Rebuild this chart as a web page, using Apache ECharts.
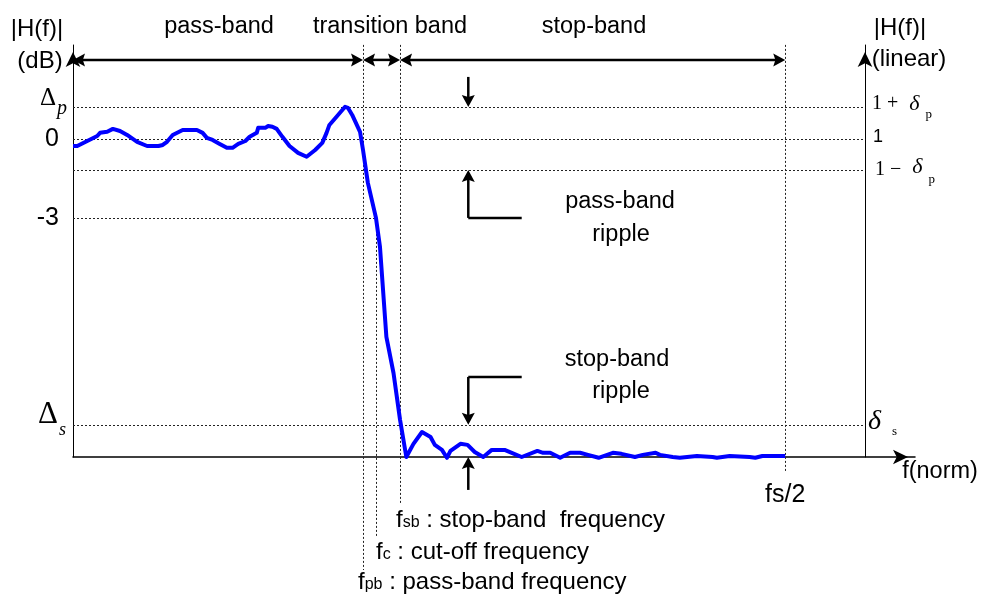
<!DOCTYPE html>
<html><head><meta charset="utf-8">
<script src="https://cdn.jsdelivr.net/npm/echarts@6/dist/echarts.min.js"></script>
<style>html,body{margin:0;padding:0;background:#fff}#c{width:986px;height:604px}</style>
</head><body><div id="c"></div>
<script>
// ---- Frequency response (normalized frequency, fs/2 = 0.5 ; magnitude in diagram dB units) ----
const freq = [0,0.003,0.010,0.017,0.019,0.024,0.028,0.033,0.038,0.045,0.052,0.060,0.063,0.066,0.070,0.077,0.087,0.091,0.094,0.098,0.103,0.108,0.112,0.116,0.121,0.124,0.129,0.130,0.135,0.137,0.140,0.143,0.147,0.152,0.158,0.164,0.170,0.175,0.178,0.180,0.185,0.191,0.193,0.196,0.2015,0.2036,0.207,0.2127,0.2155,0.220,0.225,0.2296,0.234,0.239,0.245,0.251,0.254,0.259,0.2625,0.265,0.272,0.277,0.282,0.288,0.294,0.303,0.308,0.315,0.326,0.330,0.335,0.342,0.349,0.356,0.3615,0.369,0.379,0.385,0.3945,0.400,0.409,0.412,0.421,0.426,0.438,0.449,0.452,0.461,0.475,0.479,0.484,0.500];
const gainDb = [-0.27,-0.27,-0.08,0.11,0.23,0.27,0.38,0.30,0.15,-0.11,-0.27,-0.27,-0.23,-0.11,0.15,0.34,0.34,0.23,0.04,-0.04,-0.19,-0.34,-0.34,-0.19,-0.08,0.08,0.23,0.42,0.42,0.49,0.46,0.38,0.08,-0.27,-0.53,-0.68,-0.42,-0.15,0.23,0.53,0.84,1.22,1.18,0.91,0.27,-0.42,-1.67,-3.0,-4.10,-7.52,-8.89,-10.67,-12.08,-11.58,-11.13,-11.32,-11.62,-11.81,-12.11,-11.85,-11.58,-11.62,-11.89,-12.08,-11.81,-11.81,-11.92,-12.08,-11.85,-11.92,-11.92,-12.11,-11.92,-11.92,-12.00,-12.11,-11.92,-11.96,-12.08,-12.00,-11.92,-12.00,-12.08,-12.11,-12.04,-12.08,-12.11,-12.04,-12.08,-12.11,-12.04,-12.04];

// ---- band edges (fpb, fc, fsb, fs/2) ----
const edgeFreqs = [0.2036, 0.2127, 0.2296, 0.5];
const edgeLowEnds = [-16.37, -15.11, -13.9, -12.65];   // where each dotted edge line stops (below the axis)
const edgeHighEnds = [3.57, -3.0, 3.57, 3.57];         // where each dotted edge line starts

// ---- reference levels ----
const dbLevelValues = [1.215, 0, -3, -10.86];           // Δp, 0, -3, Δs
const linLevelValues = [1.215, 0, -1.177, -10.86];      // 1+δp, 1, 1−δp, δs
const guideLevels = [1.215, 0, -1.177, -10.86];         // full-width dotted lines
const linearAxisFreq = 0.5562;                          // position of the linear |H(f)| axis
const minus3EndFreq = 0.2127;                           // -3 dB guide stops at fc
const axisMin = -12.08, axisMax = 3.566, freqMax = 0.5911;

// ---- annotation arrows ----
const bandArrowLevel = 3.0;
const rippleFreq = 0.2775, rippleElbowFreq = 0.315;
const passRippleTop = 2.354, passRippleElbow = -3.0;
const stopRippleElbow = -9.04, stopRippleBottom = -13.33;

const bandArrows = [
  [0, bandArrowLevel, edgeFreqs[0], bandArrowLevel, 1, 1],
  [edgeFreqs[0], bandArrowLevel, edgeFreqs[2], bandArrowLevel, 1, 1],
  [edgeFreqs[2], bandArrowLevel, edgeFreqs[3], bandArrowLevel, 1, 1],
  [rippleFreq, passRippleTop, rippleFreq, guideLevels[0], 0, 1],
  [rippleElbowFreq, passRippleElbow, rippleFreq, passRippleElbow, 0, 0],
  [rippleFreq, passRippleElbow, rippleFreq, guideLevels[2], 0, 1],
  [rippleElbowFreq, stopRippleElbow, rippleFreq, stopRippleElbow, 0, 0],
  [rippleFreq, stopRippleElbow, rippleFreq, guideLevels[3], 0, 1],
  [rippleFreq, stopRippleBottom, rippleFreq, axisMin, 0, 1]
];

const guides = [];
guideLevels.forEach(v => guides.push([0, v, linearAxisFreq, v]));
guides.push([0, -3, minus3EndFreq, -3]);
edgeFreqs.forEach((f, i) => guides.push([f, edgeHighEnds[i], f, edgeLowEnds[i]]));

const SANS = 'Liberation Sans, Arial, sans-serif';
const SERIF = 'Liberation Serif, Times New Roman, serif';

const dbLabels = ['{D|Δ}{p|p}', '{n|0}', '{n|-3}', '{D2|Δ}{s2|s}'];
const linLabels = ['{m|1 + }{d|δ}{sp|p}', '{one|1}', '{m1|1 − }{d|δ}{sp2|p}', '{dd|δ}{ss|s}'];

function nearest(arr, v) { let b = 0; arr.forEach((a, i) => { if (Math.abs(a - v) < Math.abs(arr[b] - v)) b = i; }); return b; }

function guideItem(params, api) {
  const a = api.coord([api.value(0), api.value(1)]);
  const b = api.coord([api.value(2), api.value(3)]);
  const snap = v => Math.round(v) + 0.5;
  const horiz = Math.abs(a[1] - b[1]) < 0.5;
  return {
    type: 'line',
    shape: horiz ? {x1: a[0], y1: snap(a[1]), x2: b[0], y2: snap(b[1])} : {x1: snap(a[0]), y1: a[1], x2: snap(b[0]), y2: b[1]},
    style: {stroke: '#222', lineWidth: 1, lineDash: [2, 2]}
  };
}

function arrowItem(params, api) {
  const p1 = api.coord([api.value(0), api.value(1)]);
  const p2 = api.coord([api.value(2), api.value(3)]);
  const hs = api.value(4), he = api.value(5);
  const len = 12, hw = 6.5;
  const dx = p2[0] - p1[0], dy = p2[1] - p1[1];
  const L = Math.hypot(dx, dy) || 1;
  const ux = dx / L, uy = dy / L;
  const s = hs ? [p1[0] + ux * len * 0.7, p1[1] + uy * len * 0.7] : p1;
  const e = he ? [p2[0] - ux * len * 0.7, p2[1] - uy * len * 0.7] : p2;
  const children = [{type: 'line', shape: {x1: s[0], y1: s[1], x2: e[0], y2: e[1]}, style: {stroke: '#000', lineWidth: 2.5}}];
  function head(tip, dirx, diry) {
    const px = -diry, py = dirx;
    const bx = tip[0] - dirx * len, by = tip[1] - diry * len;
    const nx = tip[0] - dirx * len * 0.82, ny = tip[1] - diry * len * 0.82;
    return {type: 'polygon', shape: {points: [tip, [bx + px * hw, by + py * hw], [nx, ny], [bx - px * hw, by - py * hw]]}, style: {fill: '#000'}};
  }
  if (hs) children.push(head(p1, -ux, -uy));
  if (he) children.push(head(p2, ux, uy));
  return {type: 'group', children};
}

function txt(text, x, y, size, align) {
  return {type: 'text', x, y, style: {text, fontSize: size || 23.5, fontFamily: SANS, fill: '#000', align: align || 'center', verticalAlign: 'middle'}};
}
function richTxt(text, x, y) {
  return {type: 'text', x, y, style: {text, fill: '#000', align: 'left', verticalAlign: 'middle',
    rich: {f: {fontSize: 24, fontFamily: SANS}, sub: {fontSize: 16, fontFamily: SANS, padding: [6, 0, 0, 0]}}}};
}

const axisArrow = {symbol: ['none', 'arrow'], symbolSize: [11, 15], symbolOffset: [0, -7]};

const chart = echarts.init(document.getElementById('c'));
chart.setOption({
  animation: false,
  backgroundColor: '#fff',
  grid: {left: 73, right: 71, top: 45, bottom: 147, outerBoundsMode: 'none', containLabel: false},
  xAxis: {
    type: 'value', min: 0, max: freqMax,
    axisLine: Object.assign({show: true, onZero: false, lineStyle: {color: '#000', width: 1.5}}, axisArrow),
    axisTick: {show: false}, splitLine: {show: false},
    axisLabel: {customValues: [edgeFreqs[3]], margin: 38, verticalAlign: 'middle',
      formatter: () => '{f|fs/2}', rich: {f: {fontSize: 25, fontFamily: SANS, color: '#000'}}}
  },
  yAxis: [{
    type: 'value', min: axisMin, max: axisMax, position: 'left',
    axisLine: Object.assign({show: true, onZero: false, lineStyle: {color: '#000', width: 1}}, axisArrow),
    axisTick: {show: false}, splitLine: {show: false},
    axisLabel: {customValues: dbLevelValues, margin: 6, color: '#000',
      formatter: v => dbLabels[nearest(dbLevelValues, v)],
      rich: {
        D: {fontSize: 25, fontFamily: SERIF, color: '#000', padding: [0, 0, 16, 0]},
        p: {fontSize: 20, fontFamily: SERIF, fontStyle: 'italic', color: '#000', padding: [4, 0, 0, 1]},
        D2: {fontSize: 31, fontFamily: SERIF, color: '#000', padding: [0, 0, 20, 0]},
        s2: {fontSize: 18, fontFamily: SERIF, fontStyle: 'italic', color: '#000', padding: [10, 1, 0, 1]},
        n: {fontSize: 25, fontFamily: SANS, color: '#000', padding: [0, 8, 0, 0]}
      }}
  }, {
    type: 'value', min: axisMin, max: axisMax, position: 'right', offset: -50,
    axisLine: Object.assign({show: true, onZero: false, lineStyle: {color: '#000', width: 1}}, axisArrow),
    axisTick: {show: false}, splitLine: {show: false},
    axisLabel: {customValues: linLevelValues, margin: 3, color: '#000', align: 'left',
      formatter: v => linLabels[nearest(linLevelValues, v)],
      rich: {
        m: {fontSize: 20, fontFamily: SERIF, color: '#000', padding: [0, 0, 6, 4]},
        m1: {fontSize: 20, fontFamily: SERIF, color: '#000', padding: [0, 0, 0, 7]},
        d: {fontSize: 22, fontFamily: SERIF, fontStyle: 'italic', color: '#000', padding: [0, 0, 6, 6]},
        sp: {fontSize: 13, fontFamily: SERIF, color: '#000', padding: [15, 0, 0, 6]},
        sp2: {fontSize: 13, fontFamily: SERIF, color: '#000', padding: [19, 0, 0, 6]},
        one: {fontSize: 18, fontFamily: SANS, color: '#000', padding: [0, 0, 4, 5]},
        dd: {fontSize: 28, fontFamily: SERIF, fontStyle: 'italic', color: '#000', padding: [0, 0, 7, 0]},
        ss: {fontSize: 13, fontFamily: SERIF, color: '#000', padding: [14, 0, 0, 11]}
      }}
  }],
  series: [
    {type: 'custom', name: 'guides', renderItem: guideItem, data: guides, z: 1, clip: false, silent: true},
    {type: 'line', name: '|H(f)|', data: freq.map((f, i) => [f, gainDb[i]]), symbol: 'none', smooth: false, clip: false, z: 3,
      lineStyle: {color: '#0000ff', width: 4, join: 'round'}},
    {type: 'custom', name: 'arrows', renderItem: arrowItem, data: bandArrows, z: 4, clip: false, silent: true}
  ],
  graphic: [
    txt('|H(f)|', 37, 29, 24), txt('(dB)', 40, 61, 24),
    txt('|H(f)|', 900, 28, 24), txt('(linear)', 909, 59, 24),
    txt('pass-band', 219, 27), txt('transition band', 390, 27), txt('stop-band', 594, 27),
    txt('pass-band', 620, 202), txt('ripple', 621, 235),
    txt('stop-band', 617, 360), txt('ripple', 621, 392),
    txt('f(norm)', 940, 472, 23.5),
    richTxt('{f|f}{sub|sb}{f| : stop-band  frequency}', 396, 520),
    richTxt('{f|f}{sub|c}{f| : cut-off frequency}', 376, 552),
    richTxt('{f|f}{sub|pb}{f| : pass-band frequency}', 358, 582)
  ]
});
</script></body></html>
